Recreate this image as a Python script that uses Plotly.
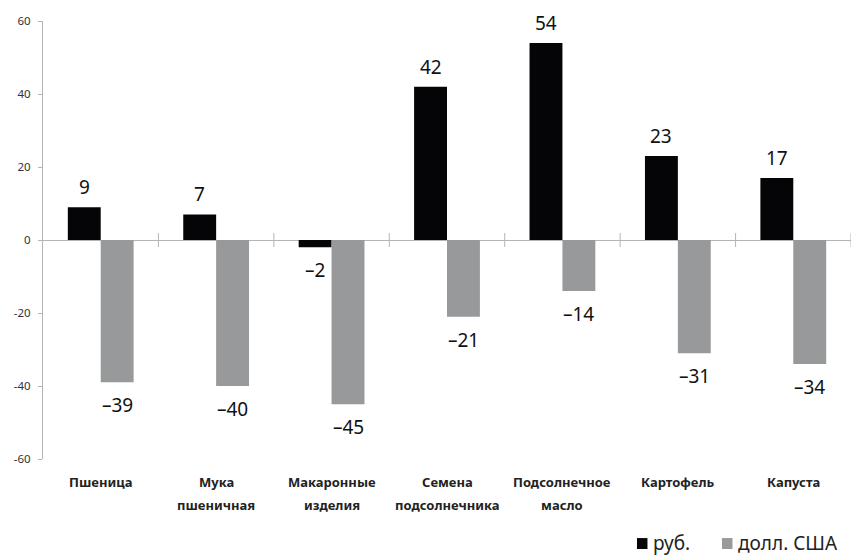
import plotly.graph_objects as go

# Price change by product, %
categories = ["Пшеница", "Мука<br>пшеничная", "Макаронные<br>изделия",
              "Семена<br>подсолнечника", "Подсолнечное<br>масло", "Картофель", "Капуста"]
rub_values = [9, 7, -2, 42, 54, 23, 17]
usd_values = [-39, -40, -45, -21, -14, -31, -34]
series_names = ["руб.", "долл. США"]
y_tickvals = [-60, -40, -20, 0, 20, 40, 60]
y_ticktext = ["-60", "-40", "-20", "0", "20", "40", "60"]

BLACK = "#050508"
GRAY = "#97999a"
AXIS = "#b4b4b4"
FONT = "Noto Sans"

x_idx = list(range(len(categories)))

fig = go.Figure()
fig.add_trace(go.Bar(x=x_idx, y=rub_values, name=series_names[0],
                     marker=dict(color=BLACK, line=dict(width=0)), showlegend=False))
fig.add_trace(go.Bar(x=x_idx, y=usd_values, name=series_names[1],
                     marker=dict(color=GRAY, line=dict(width=0)), showlegend=False))

def fmt(v):
    return str(v).replace("-", "\u2013")

annotations = []
half = 16.5  # pixel offset from group centre to each bar centre
for i, (r, u) in enumerate(zip(rub_values, usd_values)):
    for v, dx in ((r, -half), (u, half)):
        annotations.append(dict(
            x=i, y=v, xref="x", yref="y", text=fmt(v), showarrow=False,
            xshift=dx, yshift=20 if v >= 0 else -23,
            font=dict(family=FONT, size=19, color="#111"),
            xanchor="center", yanchor="middle"))

# category labels (two lines, wide line spacing)
for i, c in enumerate(categories):
    lines = c.split("<br>")
    for k, line in enumerate(lines):
        annotations.append(dict(
            x=i, y=0, xref="x", yref="paper", text="<b>" + line + "</b>",
            showarrow=False, yshift=-23 - 23 * k, xanchor="center", yanchor="middle",
            font=dict(family=FONT, size=13, color="#222")))

shapes = []

# legend at the bottom right: coloured square + label
legend_items = [(series_names[0], BLACK, 0.7351), (series_names[1], GRAY, 0.8403)]
sq_w = 0.0130
for name, col, xp in legend_items:
    shapes.append(dict(type="rect", xref="paper", yref="paper",
                       x0=xp, x1=xp + sq_w, y0=-0.2055, y1=-0.1805,
                       fillcolor=col, line=dict(width=0)))
    annotations.append(dict(
        x=xp + sq_w + 0.004, y=-0.192, xref="paper", yref="paper", showarrow=False,
        text=name, xanchor="left", yanchor="middle",
        font=dict(family=FONT, size=19, color="#222")))

# tick marks crossing the zero line between categories
for k in range(1, len(categories) + 1):
    xb = k - 0.5
    shapes.append(dict(type="line", xref="x", yref="y", x0=xb, x1=xb, y0=-1.9, y1=1.9,
                       line=dict(color=AXIS, width=1)))

fig.update_layout(
    width=852, height=555,
    margin=dict(l=43, r=1, t=21, b=96),
    paper_bgcolor="white", plot_bgcolor="white",
    barmode="group", bargap=0.43, bargroupgap=0,
    annotations=annotations, shapes=shapes,
    font=dict(family=FONT),
)
fig.update_xaxes(range=[-0.5, len(categories) - 0.5], showgrid=False, zeroline=False,
                 showticklabels=False, ticks="", showline=False, fixedrange=True)
fig.update_yaxes(range=[-60, 60], tickvals=y_tickvals, ticktext=y_ticktext,
                 showgrid=False, zeroline=True, zerolinecolor=AXIS, zerolinewidth=1,
                 showline=True, linecolor=AXIS, linewidth=1,
                 ticks="outside", ticklen=4, tickcolor=AXIS, ticklabelstandoff=5,
                 tickfont=dict(family=FONT, size=11.5, color="#333"), fixedrange=True)

fig.write_html("out.html")
